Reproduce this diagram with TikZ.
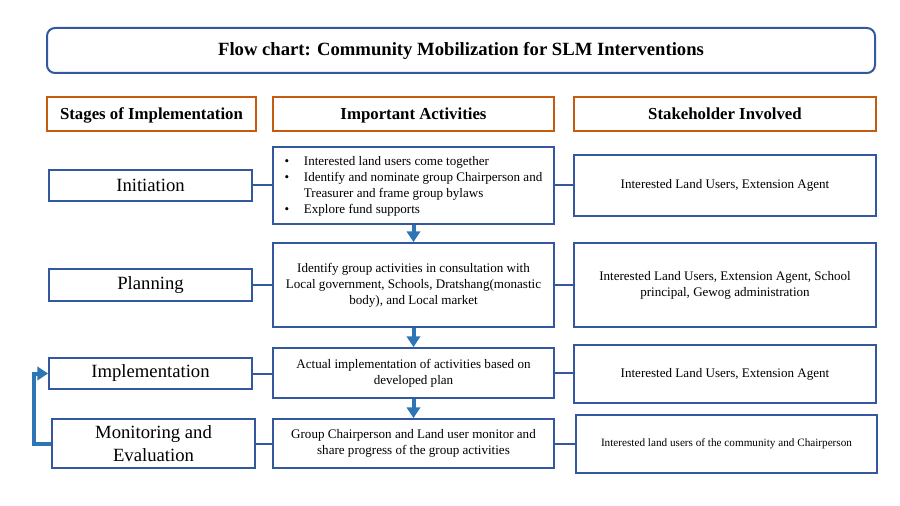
\documentclass[tikz,border=0pt]{standalone}
\usepackage{fontspec}
\setmainfont{Liberation Serif}
\usetikzlibrary{arrows.meta}
\definecolor{boxblue}{RGB}{52,88,160}
\definecolor{arrowblue}{RGB}{46,117,182}
\definecolor{headorange}{RGB}{197,90,17}
\begin{document}
\begin{tikzpicture}[x=0.75pt,y=0.75pt,yscale=-1,xscale=1,
  titlebox/.style={draw=boxblue, line width=1.5pt, rounded corners=6pt, minimum width=621pt, minimum height=33.75pt, font=\fontsize{14}{16}\selectfont\bfseries},
  headbox/.style={draw=headorange, line width=1.8pt, minimum height=25.5pt, text height=12pt, text depth=3pt, font=\fontsize{12.6}{14}\selectfont\bfseries},
  stagebox/.style={draw=boxblue, line width=1.5pt, minimum width=152.25pt, align=center, font=\fontsize{14}{17}\selectfont},
  actbox/.style={draw=boxblue, line width=1.5pt, minimum width=210.75pt, align=center, font=\fontsize{9.8}{12}\selectfont},
  holderbox/.style={draw=boxblue, line width=1.5pt, minimum width=226.5pt, align=center, font=\fontsize{9.8}{12}\selectfont},
  link/.style={draw=boxblue, line width=1.5pt},
  flow/.style={draw=arrowblue, line width=3pt, -{Triangle[width=10pt,length=8pt]}}
]
\useasboundingbox (0,0) rectangle (900,506);

\node [titlebox] (title) at (461,50.5) {Flow chart: Community Mobilization for SLM Interventions};

\node [headbox, minimum width=156.75pt] (hstage) at (151.5,114) {Stages of Implementation};
\node [headbox, minimum width=210.75pt] (hact) at (413.5,114) {Important Activities};
\node [headbox, minimum width=226.5pt] (hholder) at (725,114) {Stakeholder Involved};

%stages
\node [stagebox, minimum height=23.25pt] (init) at (150.5,185.5) {Initiation};
\node [stagebox, minimum height=24pt] (plan) at (150.5,285) {Planning};
\node [stagebox, minimum height=23.25pt] (impl) at (150.5,373.5) {Implementation};
\node [stagebox, minimum height=36.75pt] (monit) at (153.5,443.5) {Monitoring and\\Evaluation};

%activities
\node [actbox, minimum height=57.75pt] (actinit) at (413.5,186) {\begin{tabular}{@{}l@{\hspace{11pt}}l@{}}
\textbullet & Interested land users come together\\
\textbullet & Identify and nominate group Chairperson and\\
 & Treasurer and frame group bylaws\\
\textbullet & Explore fund supports
\end{tabular}};
\node [actbox, minimum height=63pt] (actplan) at (413.5,285) {Identify group activities in consultation with\\Local government, Schools, Dratshang(monastic\\body), and Local market};
\node [actbox, minimum height=37.5pt] (actimpl) at (413.5,373) {Actual implementation of activities based on\\developed plan};
\node [actbox, minimum height=36.75pt] (actmonit) at (413.5,443.5) {Group Chairperson and Land user monitor and\\share progress of the group activities};

%stakeholders
\node [holderbox, minimum height=45.75pt] (sinit) at (725,185.5) {Interested Land Users, Extension Agent};
\node [holderbox, minimum height=63pt] (splan) at (725,285) {Interested Land Users, Extension Agent, School\\principal, Gewog administration};
\node [holderbox, minimum height=43.5pt] (simpl) at (725,374) {Interested Land Users, Extension Agent};
\node [holderbox, minimum height=43.5pt, minimum width=225.75pt, font=\fontsize{8.4}{10}\selectfont] (smonit) at (726.5,444) {Interested land users of the community and Chairperson};

\draw [link] (init.east) -- (init.east -| actinit.west);
\draw [link] (actinit.east |- sinit.west) -- (sinit.west);
\draw [link] (plan) -- (actplan);
\draw [link] (actplan) -- (splan);
\draw [link] (impl.east) -- (impl.east -| actimpl.west);
\draw [link] (actimpl.east) -- (actimpl.east -| simpl.west);
\draw [link] (monit.east) -- (monit.east -| actmonit.west);
\draw [link] (actmonit.east) -- (actmonit.east -| smonit.west);

\draw [flow] (actinit) -- (actplan);
\draw [flow] (actplan) -- (actimpl);
\draw [flow] (actimpl) -- (actmonit);

\coordinate (loop) at (34,444);
\draw [flow] (monit.west) -- (monit.west -| loop) |- (impl.west);

\end{tikzpicture}
\end{document}
